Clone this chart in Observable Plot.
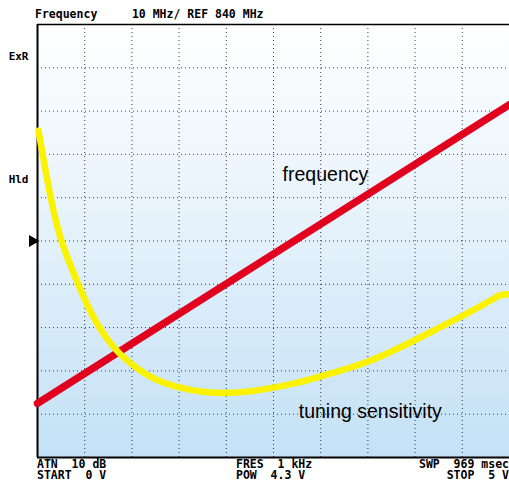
<!DOCTYPE html>
<html><head><meta charset="utf-8">
<script src="https://cdn.jsdelivr.net/npm/d3@7"></script>
<script src="https://cdn.jsdelivr.net/npm/@observablehq/plot@0.6"></script>
<style>
html,body{margin:0;padding:0;background:#fff;overflow:hidden}
#wrap{position:relative;width:509px;height:485px;overflow:hidden}
.mono{font-family:"DejaVu Sans Mono",monospace;font-weight:bold;font-size:11.5px;white-space:pre;color:#000;line-height:11px}
#head{position:relative;height:22px}
#head span{position:absolute;left:35px;top:8.5px}
#chart svg{display:block}
#foot{position:relative;height:27px}
#foot div{position:absolute;top:0.5px}
#fl{left:37px}
#fm{left:236px}
#fr{right:0px;text-align:right}
</style>
</head><body>
<div id="wrap">
  <div id="head" class="mono"><span id="title"></span></div>
  <div id="chart"></div>
  <div id="foot" class="mono"><div id="fl"></div><div id="fm"></div><div id="fr"></div></div>
</div>
<script>
// ---- data ----
const headerText = "Frequency     10 MHz/ REF 840 MHz";
const footLeft = ["ATN  10 dB", "START  0 V"];
const footMid = ["FRES  1 kHz", "POW  4.3 V"];
const footRight = ["SWP  969 msec", "STOP  5 V"];

const gridX = [1, 2, 3, 4, 5, 6, 7, 8, 9];
const gridY = [1, 2, 3, 4, 5, 6, 7, 8, 9];
const sideLabels = ["ExR", "Hld"];
const sideLabelLevels = [9.27, 6.43];
const markerLevel = [5];

const freqX = [0, 10];
const freqY = [1.25, 8.15];

const sensX = [0.02, 0.28, 0.49, 0.66, 0.85, 1.17, 1.45, 1.72, 2.1, 2.61, 3.45, 4.09, 4.72, 5.57, 6.21, 6.99, 7.69, 8.39, 9.11, 9.6, 9.8, 10.0];
const sensY = [7.55, 5.94, 5.01, 4.55, 4.02, 3.23, 2.76, 2.40, 2.05, 1.71, 1.50, 1.48, 1.55, 1.73, 1.94, 2.19, 2.54, 2.93, 3.33, 3.62, 3.77, 3.77];

const curveLabels = ["frequency", "tuning sensitivity"];
const curveLabelX = [6.1, 7.05];
const curveLabelY = [6.54, 1.05];

// ---- build ----
document.getElementById("title").textContent = headerText;
document.getElementById("fl").textContent = footLeft.join("\n");
document.getElementById("fm").textContent = footMid.join("\n");
document.getElementById("fr").textContent = footRight.join("\n");

const freq = freqX.map((x, i) => ({x, y: freqY[i]}));
const sens = sensX.map((x, i) => ({x, y: sensY[i]}));
const lbls = curveLabels.map((t, i) => ({t, x: curveLabelX[i], y: curveLabelY[i]}));

const defs = () => {
  const g = d3.create("svg:defs");
  const lg = g.append("linearGradient").attr("id", "bg").attr("x1", 0).attr("y1", 0).attr("x2", 0).attr("y2", 1);
  lg.append("stop").attr("offset", "0%").attr("stop-color", "#ffffff");
  lg.append("stop").attr("offset", "45%").attr("stop-color", "#e6f2fb");
  lg.append("stop").attr("offset", "100%").attr("stop-color", "#c3e1f6");
  return g.node();
};

const chart = Plot.plot({
  width: 509,
  height: 436,
  marginLeft: 37,
  marginRight: 0,
  marginTop: 2,
  marginBottom: 1,
  x: {domain: [0, 10], axis: null},
  y: {domain: [0, 10], axis: null},
  style: {background: "transparent", overflow: "visible"},
  marks: [
    defs,
    Plot.frame({fill: "url(#bg)", stroke: "none"}),
    Plot.ruleX(gridX, {stroke: "#000", strokeWidth: 1, strokeDasharray: "1,3", strokeOpacity: 0.75}),
    Plot.ruleY(gridY, {stroke: "#000", strokeWidth: 1, strokeDasharray: "1,3", strokeOpacity: 0.75}),
    Plot.ruleY([0], {stroke: "#000", strokeWidth: 2}),
    Plot.ruleY([10], {stroke: "#000", strokeWidth: 1.5}),
    Plot.ruleX([0], {stroke: "#000", strokeWidth: 2}),
    Plot.axisY({ticks: sideLabelLevels, tickFormat: (d, i) => sideLabels[i], tickSize: 0, tickPadding: 9, label: null,
      fontFamily: "DejaVu Sans Mono", fontWeight: "bold", fontSize: 11, fill: "#000"}),
    Plot.dot(markerLevel, {y: d => d, frameAnchor: "left", dx: -5, symbol: "triangle", rotate: 90, r: 4.5, fill: "#000", stroke: "none"}),
    Plot.line(freq, {x: "x", y: "y", stroke: "#e2001f", strokeWidth: 7.5, strokeLinecap: "round"}),
    Plot.line(sens, {x: "x", y: "y", stroke: "#fbf200", strokeWidth: 6.5, curve: "basis", strokeLinecap: "round"}),
    Plot.text(lbls, {x: "x", y: "y", text: "t", fontFamily: "Liberation Sans, Arial, sans-serif", fontSize: 19.5, fill: "#000"})
  ]
});
document.getElementById("chart").appendChild(chart);
</script>
</body></html>
